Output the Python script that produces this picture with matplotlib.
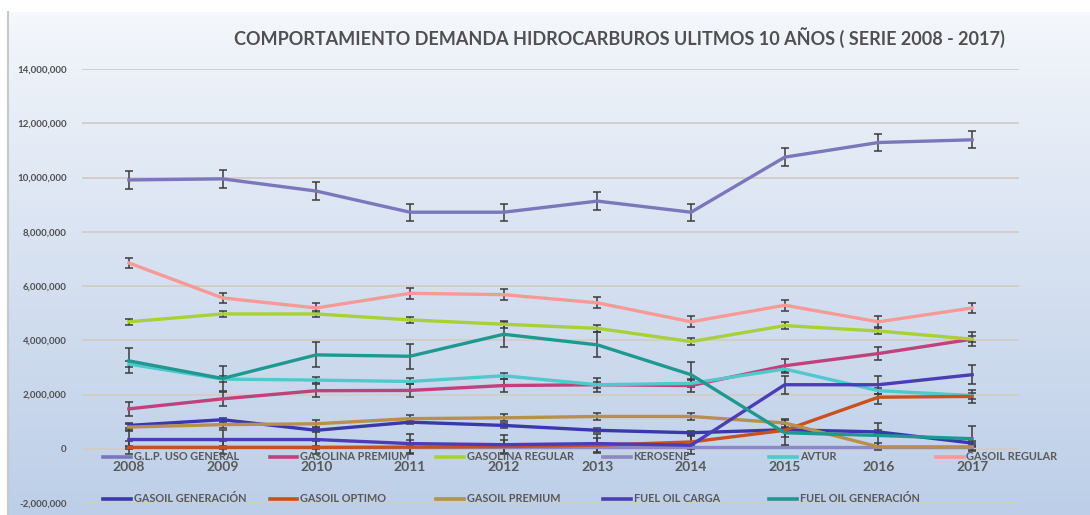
import numpy as np
import matplotlib.pyplot as plt
from matplotlib.lines import Line2D
from matplotlib.ticker import FuncFormatter

plt.rcParams['font.family'] = ['Lato', 'DejaVu Sans']

# Datos
years = ['2008', '2009', '2010', '2011', '2012', '2013', '2014', '2015', '2016', '2017']

glp_uso_general = [9.91e6, 9.95e6, 9.50e6, 8.72e6, 8.72e6, 9.13e6, 8.72e6, 10.75e6, 11.29e6, 11.39e6]
gasolina_premium = [1.47e6, 1.84e6, 2.14e6, 2.15e6, 2.33e6, 2.36e6, 2.33e6, 3.06e6, 3.51e6, 4.04e6]
gasolina_regular = [4.68e6, 4.97e6, 4.97e6, 4.75e6, 4.59e6, 4.44e6, 3.95e6, 4.54e6, 4.34e6, 4.04e6]
kerosene = [0.08e6, 0.08e6, 0.08e6, 0.08e6, 0.08e6, 0.08e6, 0.08e6, 0.08e6, 0.08e6, 0.08e6]
avtur = [3.12e6, 2.57e6, 2.53e6, 2.48e6, 2.69e6, 2.36e6, 2.41e6, 2.94e6, 2.14e6, 1.96e6]
gasoil_regular = [6.85e6, 5.56e6, 5.19e6, 5.73e6, 5.68e6, 5.38e6, 4.68e6, 5.29e6, 4.68e6, 5.19e6]
gasoil_generacion = [0.86e6, 1.07e6, 0.68e6, 0.98e6, 0.86e6, 0.68e6, 0.59e6, 0.70e6, 0.62e6, 0.21e6]
gasoil_optimo = [0.05e6, 0.05e6, 0.05e6, 0.06e6, 0.08e6, 0.13e6, 0.25e6, 0.68e6, 1.90e6, 1.93e6]
gasoil_premium = [0.80e6, 0.89e6, 0.92e6, 1.11e6, 1.14e6, 1.19e6, 1.19e6, 0.95e6, 0.07e6, 0.07e6]
fuel_oil_carga = [0.34e6, 0.34e6, 0.34e6, 0.19e6, 0.15e6, 0.19e6, 0.13e6, 2.36e6, 2.36e6, 2.73e6]
fuel_oil_generacion = [3.24e6, 2.59e6, 3.46e6, 3.41e6, 4.22e6, 3.83e6, 2.73e6, 0.59e6, 0.49e6, 0.37e6]

# tamaño de las barras de error (error tipico de cada serie)
errores = [0.32e6, 0.25e6, 0.12e6, 0.02e6, 0.11e6, 0.20e6, 0.08e6, 0.25e6, 0.13e6, 0.34e6, 0.46e6]

nombres = ['G.L.P. USO GENERAL', 'GASOLINA PREMIUM', 'GASOLINA REGULAR', 'KEROSENE', 'AVTUR',
           'GASOIL REGULAR', 'GASOIL GENERACIÓN', 'GASOIL OPTIMO', 'GASOIL PREMIUM',
           'FUEL OIL CARGA', 'FUEL OIL GENERACIÓN']
series = [glp_uso_general, gasolina_premium, gasolina_regular, kerosene, avtur, gasoil_regular,
          gasoil_generacion, gasoil_optimo, gasoil_premium, fuel_oil_carga, fuel_oil_generacion]
colores = ['#7b77ba', '#c2407c', '#a8d136', '#8c88c4', '#4fc9cc', '#f79a96',
           '#3a38ad', '#c9511f', '#b88f4c', '#4a3db6', '#1f9890']

W, H = 1090, 515
fig = plt.figure(figsize=(W / 100, H / 100), dpi=100)

# fondo degradado
bg = fig.add_axes([8 / W, 0, 1 - 8 / W, 503 / H], zorder=-5)
grad = np.linspace(0, 1, 256).reshape(-1, 1)
top = np.array([0.96, 0.97, 0.985])
bottom = np.array([0.74, 0.81, 0.91])
img = top + (bottom - top) * grad[:, :, None] ** 0.9
bg.imshow(img, aspect='auto', extent=[0, 1, 0, 1], origin='upper')
bg.axis('off')
fig.add_artist(Line2D([8 / W, 8 / W], [0, 503 / H], color='#c8c8c8', lw=1.5))

ax = fig.add_axes([82 / W, 12 / H, (1019 - 82) / W, (503 - 69) / H])
ax.set_facecolor('none')

x = np.arange(len(years))
for vals, err, c in zip(series, errores, colores):
    ax.errorbar(x, vals, yerr=err, color=c, lw=2.4, ecolor='#3c3c3c',
                elinewidth=1.1, capsize=3, capthick=1.1, zorder=3)

ax.set_xlim(-0.5, len(years) - 0.5)
ax.set_ylim(-2e6, 14e6)
ax.set_yticks(np.arange(-2e6, 14e6 + 1, 2e6))
ax.yaxis.set_major_formatter(FuncFormatter(lambda v, p: f'{v:,.0f}'))
ax.grid(axis='y', color='#d3ccc6', lw=1.3, zorder=0)
for s in ['left', 'right', 'top']:
    ax.spines[s].set_visible(False)
ax.spines['bottom'].set_position(('data', 0))
ax.spines['bottom'].set_visible(False)
ax.set_xticks(x)
ax.set_xticklabels(years, fontsize=10, fontweight='bold', color='#595959')
ax.tick_params(axis='x', length=0, pad=9)
ax.tick_params(axis='y', length=0, pad=11, labelsize=7, labelcolor='#505050')
for lab in ax.get_yticklabels():
    lab.set_fontweight('bold')

# titulo
fig.text(619 / W, 1 - 38 / H,
         'COMPORTAMIENTO DEMANDA HIDROCARBUROS ULITMOS 10 AÑOS ( SERIE 2008 - 2017)',
         ha='center', va='center', fontsize=13, fontweight='bold', color='#505050')

# leyenda (dos filas, seis columnas)
for i, (nom, c) in enumerate(zip(nombres, colores)):
    fila, col = divmod(i, 6)
    x0 = 103 + 166.5 * col
    y0 = 1 - (457 + 42 * fila) / H
    fig.add_artist(Line2D([x0 / W, (x0 + 28) / W], [y0, y0], color=c, lw=2.6))
    fig.text((x0 + 31) / W, y0, nom, ha='left', va='center', fontsize=7.8,
             fontweight='bold', color='#595959')

fig.savefig('out.png', dpi=100)
